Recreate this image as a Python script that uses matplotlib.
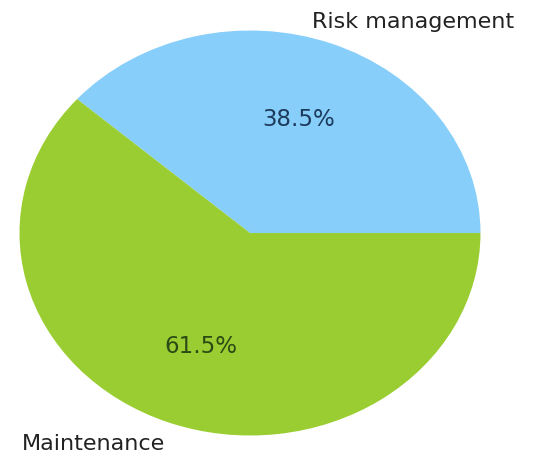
import matplotlib
matplotlib.use("Agg")
import matplotlib.pyplot as plt

labels = ["Risk management", "Maintenance"]
values = [38.5, 61.5]
colors = ["#87CEFA", "#9ACD32"]
pct_colors = ["#1d3b5c", "#2b4a14"]

W, H = 559, 454
fig = plt.figure(figsize=(W / 100, H / 100), dpi=100)
cx, cy, rx, ry = 250, 233, 230.5, 202.5
ax = fig.add_axes([(cx - rx) / W, (H - cy - ry) / H, 2 * rx / W, 2 * ry / H])
wedges, texts, autotexts = ax.pie(values, labels=labels, colors=colors,
                                  autopct="%1.1f%%", startangle=0,
                                  textprops={"fontsize": 16, "color": "#222222"})
for t, c in zip(autotexts, pct_colors):
    t.set_color(c)
    t.set_fontsize(16.5)
# label placement tweak to match reference layout
texts[0].set_position((0.269, 1.042))
texts[0].set_ha("left")
texts[1].set_position((-0.369, -1.042))
texts[1].set_ha("right")
ax.set_aspect("auto")
ax.set_xlim(-1, 1)
ax.set_ylim(-1, 1)
ax.axis("off")
fig.savefig("out.png", dpi=100)
